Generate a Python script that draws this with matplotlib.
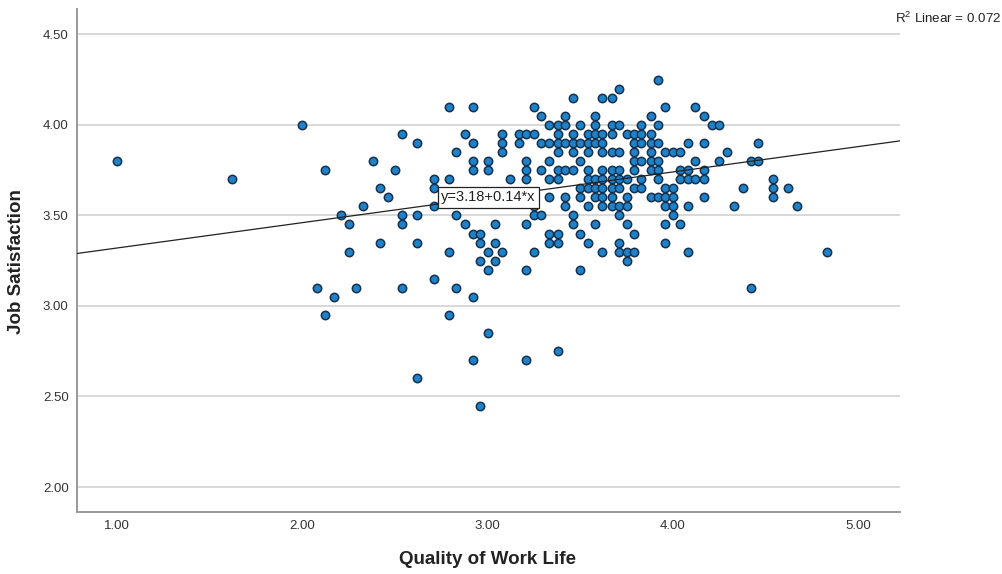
import matplotlib
matplotlib.use("Agg")
import matplotlib.pyplot as plt

plt.rcParams['font.family'] = ['Liberation Sans', 'DejaVu Sans']
plt.rcParams['mathtext.default'] = 'regular'

# Quality of Work Life (x) and Job Satisfaction (y), read row by row
qol = [
    3.92,
    3.71,
    3.46, 3.62, 3.67,
    2.79, 2.92, 3.25, 3.96, 4.12,
    3.29, 3.42, 3.58, 3.88, 4.17,
    2.00, 3.33, 3.38, 3.42, 3.50, 3.58, 3.67, 3.71, 3.83, 3.92, 4.21, 4.25,
    2.54, 2.88, 3.08, 3.17, 3.21, 3.25, 3.38, 3.46, 3.54, 3.58, 3.62, 3.67, 3.75, 3.79, 3.83, 3.88,
    2.62, 2.92, 3.08, 3.17, 3.29, 3.33, 3.38, 3.42, 3.46, 3.50, 3.54, 3.58, 3.62, 3.79, 3.83, 3.88, 3.92, 4.08, 4.17, 4.46,
    2.83, 3.08, 3.38, 3.46, 3.54, 3.62, 3.67, 3.71, 3.79, 3.88, 3.96, 4.00, 4.04, 4.29,
    1.00, 2.38, 2.92, 3.00, 3.21, 3.33, 3.50, 3.79, 3.83, 3.88, 3.92, 4.12, 4.25, 4.42, 4.46,
    2.12, 2.50, 2.92, 3.00, 3.21, 3.29, 3.38, 3.42, 3.46, 3.54, 3.62, 3.67, 3.71, 3.79, 3.88, 3.92, 4.04, 4.08, 4.17,
    1.62, 2.71, 2.79, 3.12, 3.21, 3.33, 3.38, 3.54, 3.58, 3.62, 3.67, 3.71, 3.75, 3.83, 3.92, 4.04, 4.08, 4.12, 4.17, 4.54,
    2.42, 2.71, 3.50, 3.54, 3.58, 3.62, 3.67, 3.71, 3.79, 3.83, 3.96, 4.00, 4.38, 4.54, 4.62,
    2.46, 3.33, 3.42, 3.50, 3.58, 3.62, 3.67, 3.75, 3.88, 3.92, 3.96, 4.00, 4.17, 4.54,
    2.33, 2.71, 3.25, 3.42, 3.54, 3.62, 3.67, 3.71, 3.75, 3.96, 4.00, 4.08, 4.33, 4.67,
    2.21, 2.54, 2.62, 2.83, 3.25, 3.29, 3.46, 3.71, 4.00,
    2.25, 2.54, 2.88, 3.04, 3.21, 3.46, 3.58, 3.75, 3.96, 4.04,
    2.92, 2.96, 3.33, 3.38, 3.50, 3.79,
    2.42, 2.62, 2.96, 3.04, 3.33, 3.38, 3.54, 3.71, 3.96,
    2.25, 2.79, 3.00, 3.08, 3.25, 3.62, 3.71, 3.75, 3.79, 4.08, 4.83,
    2.96, 3.04, 3.75,
    3.00, 3.21, 3.50,
    2.71,
    2.08, 2.29, 2.54, 2.83, 4.42,
    2.17, 2.92,
    2.12, 2.79,
    3.00,
    3.38,
    2.92, 3.21,
    2.62,
    2.96,
]
job_sat = [
    4.25,
    4.20,
    4.15, 4.15, 4.15,
    4.10, 4.10, 4.10, 4.10, 4.10,
    4.05, 4.05, 4.05, 4.05, 4.05,
    4.00, 4.00, 4.00, 4.00, 4.00, 4.00, 4.00, 4.00, 4.00, 4.00, 4.00, 4.00,
    3.95, 3.95, 3.95, 3.95, 3.95, 3.95, 3.95, 3.95, 3.95, 3.95, 3.95, 3.95, 3.95, 3.95, 3.95, 3.95,
    3.90, 3.90, 3.90, 3.90, 3.90, 3.90, 3.90, 3.90, 3.90, 3.90, 3.90, 3.90, 3.90, 3.90, 3.90, 3.90, 3.90, 3.90, 3.90, 3.90,
    3.85, 3.85, 3.85, 3.85, 3.85, 3.85, 3.85, 3.85, 3.85, 3.85, 3.85, 3.85, 3.85, 3.85,
    3.80, 3.80, 3.80, 3.80, 3.80, 3.80, 3.80, 3.80, 3.80, 3.80, 3.80, 3.80, 3.80, 3.80, 3.80,
    3.75, 3.75, 3.75, 3.75, 3.75, 3.75, 3.75, 3.75, 3.75, 3.75, 3.75, 3.75, 3.75, 3.75, 3.75, 3.75, 3.75, 3.75, 3.75,
    3.70, 3.70, 3.70, 3.70, 3.70, 3.70, 3.70, 3.70, 3.70, 3.70, 3.70, 3.70, 3.70, 3.70, 3.70, 3.70, 3.70, 3.70, 3.70, 3.70,
    3.65, 3.65, 3.65, 3.65, 3.65, 3.65, 3.65, 3.65, 3.65, 3.65, 3.65, 3.65, 3.65, 3.65, 3.65,
    3.60, 3.60, 3.60, 3.60, 3.60, 3.60, 3.60, 3.60, 3.60, 3.60, 3.60, 3.60, 3.60, 3.60,
    3.55, 3.55, 3.55, 3.55, 3.55, 3.55, 3.55, 3.55, 3.55, 3.55, 3.55, 3.55, 3.55, 3.55,
    3.50, 3.50, 3.50, 3.50, 3.50, 3.50, 3.50, 3.50, 3.50,
    3.45, 3.45, 3.45, 3.45, 3.45, 3.45, 3.45, 3.45, 3.45, 3.45,
    3.40, 3.40, 3.40, 3.40, 3.40, 3.40,
    3.35, 3.35, 3.35, 3.35, 3.35, 3.35, 3.35, 3.35, 3.35,
    3.30, 3.30, 3.30, 3.30, 3.30, 3.30, 3.30, 3.30, 3.30, 3.30, 3.30,
    3.25, 3.25, 3.25,
    3.20, 3.20, 3.20,
    3.15,
    3.10, 3.10, 3.10, 3.10, 3.10,
    3.05, 3.05,
    2.95, 2.95,
    2.85,
    2.75,
    2.70, 2.70,
    2.60,
    2.45,
]

# fit line as reported in the chart
intercept = 3.18
slope = 0.14
r2 = 0.072

x_ticks = [1, 2, 3, 4, 5]
y_ticks = [2.0, 2.5, 3.0, 3.5, 4.0, 4.5]
x_min, x_max = 0.784, 5.226
y_min, y_max = 1.862, 4.64

fig = plt.figure(figsize=(10.03, 5.74), dpi=100)
ax = fig.add_axes([77/1003, 1-512/574, 823/1003, 503/574])

ax.set_xlim(x_min, x_max)
ax.set_ylim(y_min, y_max)

for yt in y_ticks:
    ax.axhline(yt, color='#d2d2d2', lw=1.2, zorder=0)

ax.scatter(qol, job_sat, s=36, c='#1f82c8', edgecolors='#14314f',
           linewidths=1.1, zorder=3)

ax.plot([x_min, x_max], [intercept + slope*x_min, intercept + slope*x_max],
        color='#222222', lw=0.9, zorder=4)

ax.text(2.75, 3.60, 'y=3.18+0.14*x', fontsize=10.5, color='#222222',
        va='center', ha='left', zorder=5,
        bbox=dict(boxstyle='square,pad=0.25', fc='white', ec='#222222', lw=0.9))

ax.set_xticks(x_ticks)
ax.set_xticklabels(['%.2f' % v for v in x_ticks])
ax.set_yticks(y_ticks)
ax.set_yticklabels(['%.2f' % v for v in y_ticks])
ax.tick_params(length=0, labelsize=9.5, labelcolor='#333333', pad=6)

for side in ['top', 'right']:
    ax.spines[side].set_visible(False)
for side in ['left', 'bottom']:
    ax.spines[side].set_color('#999999')
    ax.spines[side].set_linewidth(1.4)

fig.text(17/1003, 1-262/574, 'Job Satisfaction', rotation=90, fontsize=13.5,
         fontweight='bold', ha='center', va='center', color='#222222')
fig.text(488/1003, 1-560/574, 'Quality of Work Life', fontsize=13.5,
         fontweight='bold', ha='center', va='center', color='#222222')
fig.text(1001/1003, 1-18/574, 'R$^2$ Linear = %.3f' % r2, fontsize=9.6,
         ha='right', va='center', color='#222222')

fig.savefig('out.png', dpi=100)
